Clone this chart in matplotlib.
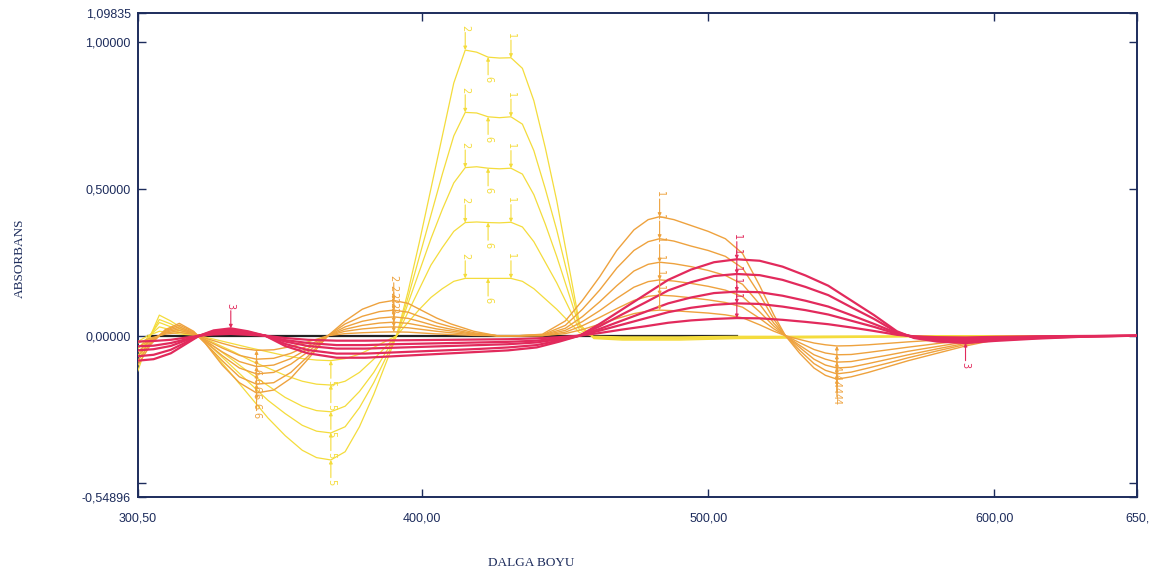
import matplotlib
matplotlib.use("Agg")
import matplotlib.pyplot as plt

# wavelength grids (nm) for each family of curves
wl_yellow = [300.5, 304, 308, 312, 316, 322, 328, 334, 340, 346, 352, 358, 363, 368, 373, 378, 383, 387,
             391, 395, 399, 403, 407, 411, 415, 419, 423, 427, 431, 435, 439, 443, 447, 451, 455, 460,
             470, 490, 510, 530, 560, 600, 650]
wl_orange = [300.5, 305, 310, 315, 320, 324, 330, 336, 342, 348, 354, 360, 367, 373, 379, 385, 390, 395,
             400, 405, 410, 418, 426, 434, 442, 450, 456, 462, 468, 474, 479, 483, 488, 494, 500, 506,
             512, 518, 523, 527, 532, 537, 541, 545, 550, 556, 563, 570, 580, 590, 600, 620, 650]
wl_red = [300.5, 306, 312, 317, 322, 327, 333, 339, 345, 352, 360, 370, 380, 390, 400, 410, 420, 430,
          440, 448, 455, 462, 470, 478, 486, 494, 502, 510, 518, 526, 534, 542, 550, 558, 566, 572,
          580, 590, 600, 615, 630, 650]

# yellow series
y1 = [-0.02, 0.0, 0.015, 0.01, 0.005, 0.0, -0.014, -0.028, -0.042, -0.055, -0.068, -0.078,
      -0.083, -0.085, -0.078, -0.063, -0.04, -0.02, 0.0, 0.045, 0.09, 0.13, 0.16, 0.185,
      0.195, 0.195, 0.195, 0.195, 0.195, 0.185, 0.16, 0.125, 0.09, 0.05, 0.01, -0.002,
      -0.004, -0.004, -0.002, -0.002, -0.001, 0.0, 0.0]
y2 = [-0.045, -0.005, 0.03, 0.02, 0.01, 0.0, -0.028, -0.055, -0.085, -0.11, -0.135, -0.155,
      -0.165, -0.168, -0.155, -0.125, -0.08, -0.04, 0.0, 0.08, 0.16, 0.24, 0.3, 0.355,
      0.385, 0.387, 0.385, 0.384, 0.386, 0.37, 0.32, 0.25, 0.18, 0.1, 0.02, -0.004,
      -0.007, -0.007, -0.004, -0.003, -0.002, 0.0, 0.0]
y3 = [-0.07, -0.01, 0.045, 0.03, 0.015, 0.0, -0.043, -0.085, -0.13, -0.17, -0.21, -0.24,
      -0.255, -0.259, -0.24, -0.19, -0.125, -0.06, 0.0, 0.11, 0.22, 0.33, 0.43, 0.52,
      0.572, 0.575, 0.57, 0.568, 0.57, 0.55, 0.48, 0.38, 0.27, 0.15, 0.03, -0.006,
      -0.01, -0.01, -0.006, -0.005, -0.003, 0.0, 0.0]
y4 = [-0.09, -0.015, 0.055, 0.04, 0.02, 0.0, -0.055, -0.11, -0.165, -0.22, -0.265, -0.305,
      -0.325, -0.331, -0.31, -0.245, -0.16, -0.08, 0.0, 0.13, 0.27, 0.41, 0.55, 0.68,
      0.76, 0.758, 0.745, 0.742, 0.745, 0.72, 0.63, 0.5, 0.36, 0.2, 0.035, -0.008,
      -0.012, -0.012, -0.008, -0.006, -0.004, 0.0, 0.0]
y5 = [-0.12, -0.02, 0.07, 0.05, 0.025, 0.0, -0.07, -0.14, -0.21, -0.28, -0.34, -0.39,
      -0.415, -0.423, -0.395, -0.31, -0.2, -0.1, 0.0, 0.15, 0.32, 0.5, 0.68, 0.86,
      0.972, 0.965, 0.948, 0.945, 0.946, 0.91, 0.8, 0.64, 0.46, 0.25, 0.04, -0.01,
      -0.015, -0.015, -0.01, -0.008, -0.005, 0.0, 0.0]

# orange series
o1 = [-0.025, -0.008, 0.005, 0.011, 0.004, -0.008, -0.026, -0.042, -0.05, -0.048, -0.037, -0.021,
      0.0, 0.007, 0.01, 0.012, 0.013, 0.012, 0.009, 0.006, 0.004, 0.001, 0.0, 0.0,
      0.0, 0.007, 0.021, 0.039, 0.058, 0.075, 0.084, 0.087, 0.085, 0.081, 0.077, 0.071,
      0.061, 0.037, 0.015, 0.0, -0.013, -0.025, -0.031, -0.035, -0.034, -0.031, -0.026, -0.021,
      -0.015, -0.009, -0.004, -0.001, 0.0]
o2 = [-0.04, -0.012, 0.008, 0.018, 0.006, -0.013, -0.042, -0.067, -0.08, -0.077, -0.06, -0.034,
      0.0, 0.015, 0.023, 0.028, 0.03, 0.027, 0.021, 0.015, 0.01, 0.003, 0.0, 0.0,
      0.0, 0.012, 0.034, 0.062, 0.092, 0.12, 0.134, 0.138, 0.135, 0.129, 0.122, 0.113,
      0.097, 0.059, 0.023, 0.0, -0.024, -0.047, -0.059, -0.065, -0.064, -0.057, -0.048, -0.039,
      -0.027, -0.016, -0.007, -0.002, 0.0]
o3 = [-0.055, -0.015, 0.011, 0.024, 0.008, -0.017, -0.055, -0.088, -0.105, -0.1, -0.078, -0.044,
      0.0, 0.022, 0.035, 0.043, 0.046, 0.042, 0.033, 0.023, 0.016, 0.005, 0.0, 0.0,
      0.001, 0.018, 0.048, 0.085, 0.127, 0.165, 0.184, 0.19, 0.186, 0.178, 0.168, 0.155,
      0.133, 0.081, 0.032, 0.0, -0.033, -0.065, -0.08, -0.09, -0.088, -0.078, -0.066, -0.053,
      -0.037, -0.021, -0.009, -0.002, 0.0]
o4 = [-0.07, -0.02, 0.014, 0.03, 0.01, -0.02, -0.068, -0.11, -0.13, -0.125, -0.097, -0.055,
      0.0, 0.03, 0.049, 0.06, 0.064, 0.059, 0.046, 0.032, 0.022, 0.007, 0.0, 0.0,
      0.002, 0.025, 0.065, 0.115, 0.17, 0.22, 0.243, 0.25, 0.245, 0.235, 0.222, 0.205,
      0.175, 0.107, 0.042, 0.0, -0.04, -0.08, -0.1, -0.11, -0.107, -0.095, -0.08, -0.065,
      -0.045, -0.026, -0.011, -0.003, 0.0]
o5 = [-0.085, -0.025, 0.017, 0.036, 0.013, -0.025, -0.085, -0.14, -0.165, -0.16, -0.125, -0.07,
      0.0, 0.04, 0.066, 0.082, 0.087, 0.08, 0.062, 0.044, 0.03, 0.01, 0.0, 0.0,
      0.003, 0.035, 0.09, 0.155, 0.23, 0.29, 0.32, 0.33, 0.322, 0.305, 0.29, 0.27,
      0.23, 0.14, 0.055, 0.0, -0.05, -0.095, -0.118, -0.13, -0.124, -0.11, -0.093, -0.075,
      -0.052, -0.03, -0.013, -0.004, 0.0]
o6 = [-0.1, -0.03, 0.02, 0.042, 0.015, -0.025, -0.1, -0.16, -0.195, -0.185, -0.145, -0.08,
      0.0, 0.05, 0.09, 0.112, 0.12, 0.11, 0.085, 0.06, 0.04, 0.015, 0.0, 0.0,
      0.005, 0.05, 0.12, 0.2, 0.29, 0.36, 0.395, 0.405, 0.395, 0.375, 0.355, 0.33,
      0.28, 0.17, 0.07, 0.0, -0.06, -0.11, -0.135, -0.148, -0.14, -0.125, -0.105, -0.085,
      -0.06, -0.035, -0.015, -0.005, 0.0]

# red series
r1 = [-0.02, -0.018, -0.014, -0.007, 0.0, 0.004, 0.006, 0.003, 0.0, -0.008, -0.014, -0.017,
      -0.017, -0.016, -0.015, -0.014, -0.013, -0.012, -0.009, -0.005, 0.0, 0.009, 0.021, 0.032,
      0.044, 0.052, 0.057, 0.06, 0.059, 0.054, 0.047, 0.039, 0.028, 0.016, 0.003, -0.002,
      -0.005, -0.006, -0.004, -0.002, -0.001, 0.0]
r2 = [-0.036, -0.034, -0.025, -0.013, 0.0, 0.008, 0.01, 0.006, 0.0, -0.015, -0.025, -0.032,
      -0.032, -0.029, -0.027, -0.025, -0.023, -0.021, -0.017, -0.008, 0.0, 0.017, 0.038, 0.059,
      0.08, 0.095, 0.105, 0.11, 0.108, 0.099, 0.087, 0.072, 0.051, 0.03, 0.006, -0.003,
      -0.008, -0.011, -0.008, -0.004, -0.002, 0.0]
r3 = [-0.05, -0.046, -0.035, -0.017, 0.0, 0.01, 0.015, 0.009, 0.0, -0.02, -0.035, -0.044,
      -0.044, -0.041, -0.038, -0.035, -0.032, -0.029, -0.023, -0.012, 0.0, 0.023, 0.052, 0.081,
      0.11, 0.13, 0.145, 0.15, 0.148, 0.136, 0.119, 0.099, 0.07, 0.04, 0.009, -0.005,
      -0.012, -0.015, -0.01, -0.006, -0.002, 0.0]
r4 = [-0.07, -0.065, -0.048, -0.024, 0.0, 0.015, 0.02, 0.012, 0.0, -0.028, -0.049, -0.061,
      -0.061, -0.057, -0.053, -0.049, -0.045, -0.04, -0.032, -0.016, 0.0, 0.032, 0.073, 0.113,
      0.154, 0.182, 0.203, 0.21, 0.206, 0.19, 0.166, 0.138, 0.097, 0.057, 0.012, -0.006,
      -0.016, -0.02, -0.015, -0.008, -0.003, 0.0]
r5 = [-0.085, -0.08, -0.06, -0.03, 0.0, 0.018, 0.025, 0.015, 0.0, -0.035, -0.06, -0.075,
      -0.075, -0.07, -0.065, -0.06, -0.055, -0.05, -0.04, -0.02, 0.0, 0.04, 0.09, 0.14,
      0.19, 0.225, 0.25, 0.26, 0.255, 0.235, 0.205, 0.17, 0.12, 0.07, 0.015, -0.008,
      -0.02, -0.025, -0.018, -0.01, -0.004, 0.0]

# blank / baseline
wl_base = [304, 510]
base = [0.0, 0.0]

y_min, y_max = -0.54896, 1.09835
x_min, x_max = 300.5, 650.0

YELLOW = "#f4dc3c"
ORANGE = "#eea23e"
RED = "#e22a5c"
NAVY = "#1d2c5c"

families = {
    "Y": (wl_yellow, [y1, y2, y3, y4, y5], YELLOW, 0.9),
    "O": (wl_orange, [o1, o2, o3, o4, o5, o6], ORANGE, 1.0),
    "R": (wl_red, [r1, r2, r3, r4, r5], RED, 1.6),
}

# peak pick marks: family, wavelength, label, side, only the largest curve?
marks = [
    ("Y", 415, "2", "above", False), ("Y", 431, "1", "above", False),
    ("Y", 423, "6", "below", False), ("Y", 368, "5", "below", False),
    ("O", 483, "1", "above", False), ("O", 545, "4", "below", False),
    ("O", 342, "6", "below", False), ("O", 390, "2", "above", False),
    ("R", 510, "1", "above", False), ("R", 333, "3", "above", True),
    ("R", 590, "3", "below", True),
]

fig = plt.figure(figsize=(11.49, 5.77), dpi=100)
ax = fig.add_axes([0.120, 0.1387, 0.8696, 0.8388])

ax.plot(wl_base, base, color="#222222", lw=1.6, zorder=2)
for key, (wl, curves, color, lw) in families.items():
    for ys in curves:
        ax.plot(wl, ys, color=color, lw=lw, zorder=3)

for key, w, label, side, only_max in marks:
    wl, curves, color, lw = families[key]
    i = wl.index(w)
    s = 1 if side == "above" else -1
    for ys in (curves[-1:] if only_max else curves):
        y0 = ys[i]
        ax.annotate("", xy=(w, y0), xytext=(w, y0 + s * 0.06),
                    arrowprops=dict(arrowstyle="-|>", color=color, lw=0.8,
                                    mutation_scale=5, shrinkA=0, shrinkB=0),
                    zorder=4)
        ax.text(w, y0 + s * 0.065, label, color=color, fontsize=7, rotation=-90,
                ha="center", va="bottom" if s > 0 else "top", zorder=4)

ax.set_xlim(x_min, x_max)
ax.set_ylim(y_min, y_max)

ax.set_xticks([300.5, 400, 500, 600, 650])
ax.set_xticklabels(["300,50", "400,00", "500,00", "600,00", "650,"])
ax.set_yticks([y_min, -0.5, 0.0, 0.5, 1.0, y_max])
ax.set_yticklabels(["-0,54896", "", "0,00000", "0,50000", "1,00000", "1,09835"])

ax.tick_params(direction="in", length=6, width=1, color=NAVY, top=True, right=True,
               labelcolor=NAVY, labelsize=9)
ax.tick_params(axis="x", pad=11)
ax.tick_params(axis="y", pad=5)
for lab in ax.get_xticklabels() + ax.get_yticklabels():
    lab.set_family(["Liberation Sans", "DejaVu Sans"])

for sp in ax.spines.values():
    sp.set_color(NAVY)
    sp.set_linewidth(1.4)

fig.text(0.017, 0.552, "ABSORBANS", rotation=90, ha="center", va="center",
         fontsize=9.5, color=NAVY, family=["Liberation Serif", "DejaVu Serif"])
fig.text(0.462, 0.025, "DALGA BOYU", ha="center", va="center",
         fontsize=9.5, color=NAVY, family=["Liberation Serif", "DejaVu Serif"])

fig.savefig("out.png", dpi=100)
